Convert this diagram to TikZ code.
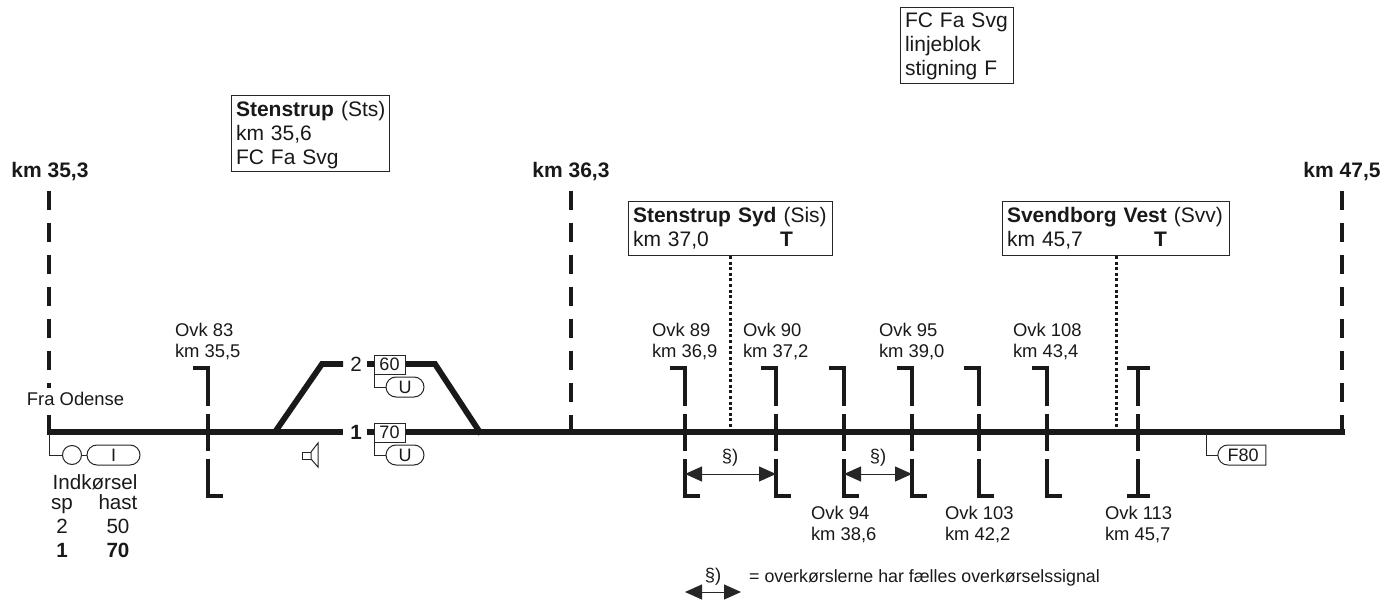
\documentclass[tikz,border=0pt]{standalone}
\usepackage{fontspec}
\setmainfont{Liberation Sans}
\usetikzlibrary{arrows.meta,shapes.misc}
\newcommand{\tp}[1]{\rule{0pt}{#1pt}}
\newcommand{\bt}[1]{\rule[-#1pt]{0pt}{1pt}}
\newcommand{\fsm}{\fontsize{18.4}{21}\selectfont}
\newcommand{\fbg}{\fontsize{20.6}{24}\selectfont}
\newcommand{\fbx}{\fontsize{21}{24}\selectfont}
\tikzset{
  trk/.style={line width=5.8pt,black!90,line cap=butt},
  sgn/.style={line width=4.4pt,black!90,line cap=butt},
  thin line/.style={line width=1pt,black!85},
  lbl/.style={font=\fsm,text=black!90,inner sep=0pt,anchor=base},
  big/.style={font=\fbg,text=black!90,inner sep=0pt,anchor=base},
  bigb/.style={font=\fbg\bfseries,text=black!90,inner sep=0pt,anchor=base},
  kmlbl/.style={font=\fbx\bfseries,text=black!90,inner sep=0pt,anchor=base},
  ovklbl/.style={font=\fsm,text=black!90,inner sep=0pt,outer sep=0pt,anchor=north west,align=left},
  stnbox/.style={draw=black!85,line width=1pt,fill=white,font=\fbx,text=black!90,anchor=north west,align=left,inner xsep=5pt,inner ysep=2pt,outer sep=0pt},
  pill/.style={rounded rectangle,draw=black!85,line width=1pt,fill=white,font=\fontsize{18}{20}\selectfont,text=black!90,minimum height=20pt,inner sep=0pt,outer sep=0pt},
  sbox/.style={rectangle,draw=black!85,line width=1pt,fill=white,font=\fontsize{18}{20}\selectfont,text=black!90,minimum width=31pt,minimum height=19pt,inner sep=0pt,outer sep=0pt},
  dbl/.style={line width=1pt,black!85,{Triangle[length=17pt,width=15pt]}-{Triangle[length=17pt,width=15pt]}},
  dots/.style={line width=3pt,black!90,dash pattern=on 3pt off 2.6pt},
}
% #1 name, #2 x : dashed km line down to the track
\newcommand{\kmline}[2]{%
  \coordinate (#1t) at (#2,191);
  \coordinate (#1b) at (#2,434);
  \draw[sgn,dash pattern=on 19pt off 13pt] (#1t) -- (#1b);
}
% #1 name, #2 x, #3 top bar from, #4 top bar to, #5 bottom bar from, #6 bottom bar to
\newcommand{\ovk}[6]{%
  \coordinate (#1a) at (#2,368);
  \coordinate (#1b) at (#2,406);
  \coordinate (#1c) at (#2,414);
  \coordinate (#1d) at (#2,451);
  \coordinate (#1e) at (#2,459);
  \coordinate (#1f) at (#2,496);
  \draw[sgn] (#1a) -- (#1b);
  \draw[sgn] (#1c) -- (#1d);
  \draw[sgn] (#1e) -- (#1f);
  \draw[line width=3.6pt,black!90] (#3,368) -- (#4,368);
  \draw[line width=3.6pt,black!90] (#5,496) -- (#6,496);
}
\begin{document}
\begin{tikzpicture}[x=1pt,y=-1pt]
\useasboundingbox (0,0) rectangle (1386,601);

% km boundaries
\kmline{ka}{49}
\kmline{kb}{571}
\kmline{kc}{1342}
\node[kmlbl] (lka) at (50,178) {km 35,3};
\node[kmlbl] (lkb) at (571,178) {km 36,3};
\node[kmlbl] (lkc) at (1342,178) {km 47,5};

% Fra Odense masks the dashed line
\node[ovklbl,fill=white,anchor=base west,inner ysep=4pt] (fra) at (27,405) {Fra Odense};

% station boxes
\node[stnbox,text width=148pt] (sts) at (231,96) {\tp{19}\mbox{\textbf{Stenstrup} (Sts)}\\km 35,6\\FC Fa Svg\bt{4}};
\node[stnbox,text width=103pt] (fc) at (900,8) {\tp{18}\mbox{FC Fa Svg}\\linjeblok\\stigning F\bt{6}};
\node[stnbox,text width=194pt] (sis) at (628,202) {\tp{19}\mbox{\textbf{Stenstrup Syd} (Sis)}\\\leavevmode\rlap{km 37,0}\hspace*{147pt}\textbf{T}\bt{7}};
\node[stnbox,text width=217pt] (svv) at (1002,202) {\tp{19}\mbox{\textbf{Svendborg Vest} (Svv)}\\\leavevmode\rlap{km 45,7}\hspace*{147pt}\textbf{T}\bt{7}};

\coordinate (sisd) at (730,429);
\coordinate (svvd) at (1116,429);
\draw[dots] (sis.south -| sisd) -- (sisd);
\draw[dots] (svv.south -| svvd) -- (svvd);

% level crossings
\ovk{oa}{208}{193}{210}{206}{223}
\ovk{ob}{685}{670}{687}{683}{700}
\ovk{oc}{776}{761}{778}{774}{791}
\ovk{od}{844}{829}{846}{842}{859}
\ovk{oe}{912}{897}{914}{910}{927}
\ovk{of}{979}{964}{981}{977}{994}
\ovk{og}{1047}{1032}{1049}{1045}{1062}
\ovk{oh}{1138}{1127}{1150}{1127}{1150}

\node[ovklbl] (la) at (175,323) {\tp{14}Ovk 83\\km 35,5};
\node[ovklbl] (lb) at (652,323) {\tp{14}Ovk 89\\km 36,9};
\node[ovklbl] (lc) at (743,323) {\tp{14}Ovk 90\\km 37,2};
\node[ovklbl] (le) at (879,323) {\tp{14}Ovk 95\\km 39,0};
\node[ovklbl] (lg) at (1013,323) {\tp{14}Ovk 108\\km 43,4};
\node[ovklbl] (ld) at (811,505) {\tp{14}Ovk 94\\km 38,6};
\node[ovklbl] (lf) at (945,505) {\tp{14}Ovk 103\\km 42,2};
\node[ovklbl] (lh) at (1105,505) {\tp{14}Ovk 113\\km 45,7};

% track
\coordinate (w1) at (47,432);
\coordinate (w2) at (343,432);
\coordinate (w3) at (367,432);
\coordinate (e1) at (1345,432);
\coordinate (sw1) at (275,432);
\coordinate (sw1t) at (322,364);
\coordinate (w4) at (343,364);
\coordinate (w5) at (367,364);
\coordinate (sw2t) at (435,364);
\coordinate (sw2) at (481,434);
\draw[trk] (w1) -- (w2);
\draw[trk] (w3) -- (e1);
\draw[trk,line join=miter] (sw1) -- (sw1t) -- (w4);
\draw[trk,line join=miter] (w5) -- (sw2t) -- (sw2);

\node[bigb] (n1) at (356,439) {1};
\node[big] (n2) at (356,371) {2};

\node[sbox] (b60) at (389.5,364.5) {60};
\node[sbox] (b70) at (389.5,432.5) {70};
\node[pill,minimum width=38pt] (u2) at (405,387) {U};
\node[pill,minimum width=38pt] (u1) at (405,455) {U};
\draw[thin line] (b60.south west) |- (u2.west);
\draw[thin line] (b70.south west) |- (u1.west);

% entry signal
\coordinate (sg) at (49,434);
\node[circle,draw=black!85,line width=1pt,fill=white,minimum size=19pt,inner sep=0pt,outer sep=0pt] (sc) at (72,455) {};
\node[pill,minimum width=53pt] (si) at (113.5,455) {I};
\draw[thin line] (sg) |- (sc.west);
\draw[thin line] (sc.east) -- (si.west);

% speaker
\coordinate (spa) at (311,452);
\coordinate (spb) at (318,443);
\coordinate (spc) at (318,467);
\coordinate (spd) at (311,459);
\coordinate (spe) at (302.5,459);
\coordinate (spf) at (302.5,452);
\draw[thin line] (spa) -- (spb) -- (spc) -- (spd) -- cycle;
\draw[thin line] (spa) -- (spf) -- (spe) -- (spd);

% speed table
\node[big] (ti) at (95,489) {Indkørsel};
\node[big] (tsp) at (62,509) {sp};
\node[big] (th) at (118,509) {hast};
\node[big] (t2) at (62,533) {2};
\node[big] (t50) at (118,533) {50};
\node[bigb] (t1) at (62,557) {1};
\node[bigb] (t70) at (118,557) {70};

% F80
\coordinate (ft) at (1206,434);
\node[pill,rounded rectangle east arc=none,minimum width=48pt] (f80) at (1243,455) {F80};
\draw[thin line] (ft) |- (f80.west);

% common-signal arrows
\coordinate (a1) at (685,474);
\coordinate (a2) at (776,474);
\coordinate (a3) at (844,474);
\coordinate (a4) at (912,474);
\coordinate (a5) at (685,592);
\coordinate (a6) at (741,592);
\draw[dbl] (a1) -- (a2);
\draw[dbl] (a3) -- (a4);
\draw[dbl] (a5) -- (a6);
\node[lbl] (s1) at (730,462) {§)};
\node[lbl] (s2) at (878,462) {§)};
\node[lbl] (s3) at (713,581) {§)};
\node[lbl,anchor=base west,font=\fontsize{17.8}{21}\selectfont] (leg) at (749,582) {= overkørslerne har fælles overkørselssignal};
\end{tikzpicture}
\end{document}
